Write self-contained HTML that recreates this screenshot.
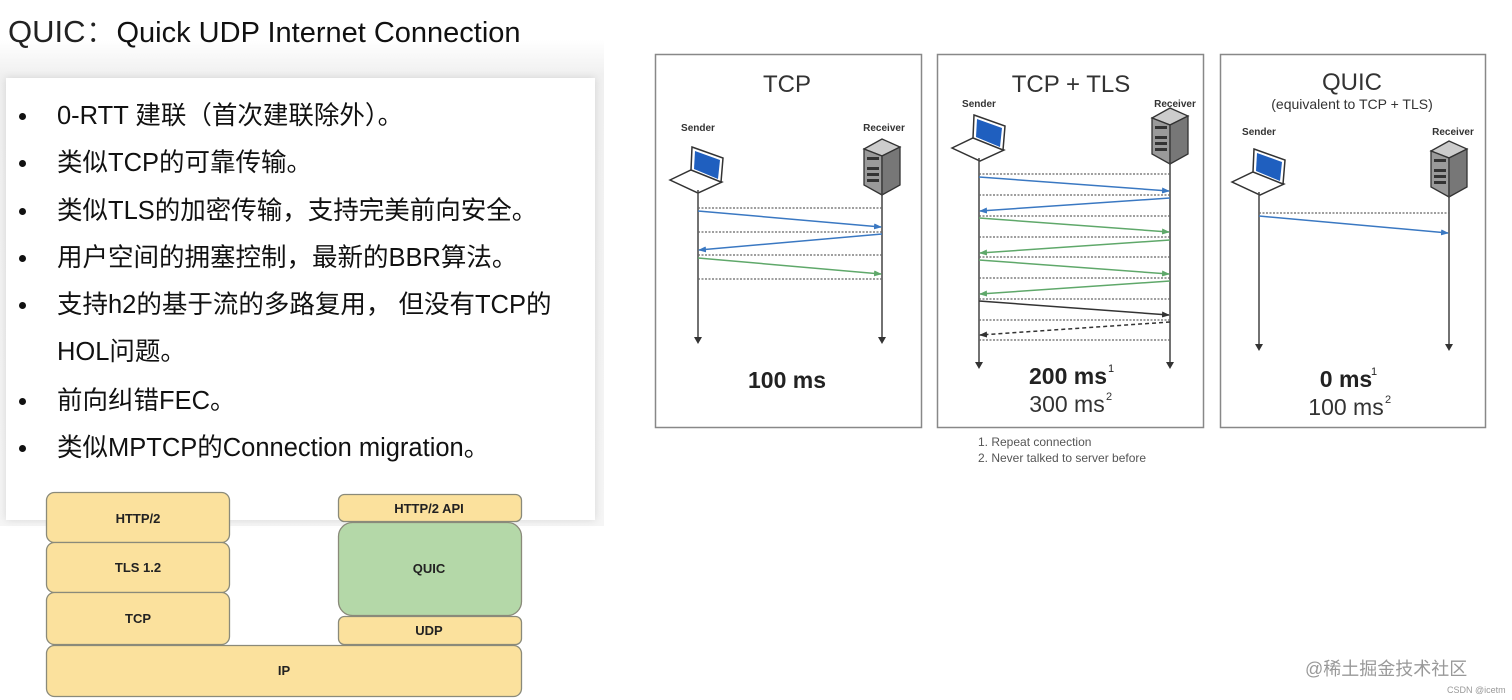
<!DOCTYPE html>
<html><head><meta charset="utf-8"><style>
html,body{margin:0;padding:0;background:#fff;}
body{width:1512px;height:700px;position:relative;overflow:hidden;font-family:"Liberation Sans","Noto Sans CJK SC",sans-serif;}
.shade{position:absolute;left:0;top:40px;width:604px;height:486px;background:linear-gradient(#fff,#f0f0f0 35px,#f5f5f5);}
.box{position:absolute;left:6px;top:78px;width:589px;height:442px;background:#fff;box-shadow:0 0 8px rgba(0,0,0,0.12);}
.t{position:absolute;white-space:nowrap;color:#111;}
.li{position:absolute;left:57px;font-size:25.5px;color:#111;white-space:nowrap;line-height:28px;}
.dot{position:absolute;left:19px;width:7px;height:7px;border-radius:50%;background:#111;}
</style></head><body>
<div class="shade"></div>
<div class="box"></div>
<div class="t" style="left:8px;top:6px;font-size:31px;font-weight:300;color:#222;">QUIC：<span style="font-size:29px;color:#111;">Quick UDP Internet Connection</span></div>

<div class="dot" style="top:113px"></div><div class="li" style="top:102px">0-RTT 建联（首次建联除外）。</div>
<div class="dot" style="top:160px"></div><div class="li" style="top:149px">类似TCP的可靠传输。</div>
<div class="dot" style="top:208px"></div><div class="li" style="top:197px">类似TLS的加密传输，支持完美前向安全。</div>
<div class="dot" style="top:255px"></div><div class="li" style="top:244px">用户空间的拥塞控制，最新的BBR算法。</div>
<div class="dot" style="top:302px"></div><div class="li" style="top:291px">支持h2的基于流的多路复用， 但没有TCP的</div>
<div class="li" style="top:338px">HOL问题。</div>
<div class="dot" style="top:398px"></div><div class="li" style="top:387px">前向纠错FEC。</div>
<div class="dot" style="top:445px"></div><div class="li" style="top:434px">类似MPTCP的Connection migration。</div>

<svg width="1512" height="700" style="position:absolute;left:0;top:0" xmlns="http://www.w3.org/2000/svg" font-family="Liberation Sans, sans-serif">
<defs>
<marker id="ab" markerWidth="8" markerHeight="8" refX="7" refY="4" orient="auto" markerUnits="userSpaceOnUse"><path d="M0,1 L8,4 L0,7z" fill="#3a78c2"/></marker>
<marker id="ag" markerWidth="8" markerHeight="8" refX="7" refY="4" orient="auto" markerUnits="userSpaceOnUse"><path d="M0,1 L8,4 L0,7z" fill="#5fa86a"/></marker>
<marker id="ak" markerWidth="8" markerHeight="8" refX="7" refY="4" orient="auto" markerUnits="userSpaceOnUse"><path d="M0,1 L8,4 L0,7z" fill="#333"/></marker>
<g id="lap">
<polygon points="-27,-9 -4,-20 25,-7 1,4" fill="#fff" stroke="#333" stroke-width="1.5"/>
<polygon points="-5,-42 26,-31 24,-7 -6,-19" fill="#fff" stroke="#333" stroke-width="1.5"/>
<polygon points="-2,-38 23,-29 21,-10 -3,-20" fill="#1f5fbf"/>
</g>
<g id="srv">
<polygon points="-18,-44 0,-54 18,-46 0,-37" fill="#ccc" stroke="#333" stroke-width="1.3"/>
<polygon points="-18,-44 0,-37 0,2 -18,-8" fill="#9a9a9a" stroke="#333" stroke-width="1.3"/>
<polygon points="0,-37 18,-46 18,-8 0,2" fill="#777" stroke="#333" stroke-width="1.3"/>
<rect x="-15" y="-36" width="12" height="3" fill="#333"/>
<rect x="-15" y="-26" width="12" height="3" fill="#333"/>
<rect x="-15" y="-20" width="12" height="3" fill="#333"/>
<rect x="-15" y="-14" width="12" height="3" fill="#333"/>
</g>
</defs>

<!-- Panel TCP -->
<rect x="655.5" y="54.5" width="266" height="373" fill="#fff" stroke="#888" stroke-width="1.5"/>
<text x="787" y="92" font-size="24" text-anchor="middle" fill="#333">TCP</text>
<text x="698" y="131" font-size="10" text-anchor="middle" fill="#333" font-weight="bold">Sender</text>
<text x="884" y="131" font-size="10" text-anchor="middle" fill="#333" font-weight="bold">Receiver</text>
<use href="#lap" x="697" y="189"/>
<use href="#srv" x="882" y="193"/>
<g stroke="#444" stroke-width="1.5"><line x1="698" y1="190" x2="698" y2="340"/><line x1="882" y1="194" x2="882" y2="340"/></g>
<path d="M694,337 L698,344 L702,337z M878,337 L882,344 L886,337z" fill="#333"/>
<g stroke="#666" stroke-width="1.2" stroke-dasharray="2,1.5"><line x1="698" y1="208" x2="882" y2="208"/><line x1="698" y1="232" x2="882" y2="232"/><line x1="698" y1="255" x2="882" y2="255"/><line x1="698" y1="279" x2="882" y2="279"/></g>
<line x1="698" y1="211" x2="881" y2="227" stroke="#3a78c2" stroke-width="1.5" marker-end="url(#ab)"/>
<line x1="882" y1="234" x2="699" y2="250" stroke="#3a78c2" stroke-width="1.5" marker-end="url(#ab)"/>
<line x1="698" y1="258" x2="881" y2="274" stroke="#5fa86a" stroke-width="1.5" marker-end="url(#ag)"/>
<text x="787" y="388" font-size="23" font-weight="bold" text-anchor="middle" fill="#222">100 ms</text>

<!-- Panel TCP+TLS -->
<rect x="937.5" y="54.5" width="266" height="373" fill="#fff" stroke="#888" stroke-width="1.5"/>
<text x="1071" y="92" font-size="24" text-anchor="middle" fill="#333">TCP + TLS</text>
<text x="979" y="107" font-size="10" text-anchor="middle" fill="#333" font-weight="bold">Sender</text>
<text x="1175" y="107" font-size="10" text-anchor="middle" fill="#333" font-weight="bold">Receiver</text>
<use href="#lap" x="979" y="157"/>
<use href="#srv" x="1170" y="162"/>
<g stroke="#444" stroke-width="1.5"><line x1="979" y1="158" x2="979" y2="365"/><line x1="1170" y1="163" x2="1170" y2="365"/></g>
<path d="M975,362 L979,369 L983,362z M1166,362 L1170,369 L1174,362z" fill="#333"/>
<g stroke="#666" stroke-width="1.2" stroke-dasharray="2,1.5">
<line x1="979" y1="174" x2="1170" y2="174"/><line x1="979" y1="195" x2="1170" y2="195"/><line x1="979" y1="216" x2="1170" y2="216"/><line x1="979" y1="237" x2="1170" y2="237"/><line x1="979" y1="257" x2="1170" y2="257"/><line x1="979" y1="278" x2="1170" y2="278"/><line x1="979" y1="299" x2="1170" y2="299"/><line x1="979" y1="320" x2="1170" y2="320"/><line x1="979" y1="340" x2="1170" y2="340"/></g>
<line x1="979" y1="177" x2="1169" y2="191" stroke="#3a78c2" stroke-width="1.5" marker-end="url(#ab)"/>
<line x1="1170" y1="198" x2="980" y2="211" stroke="#3a78c2" stroke-width="1.5" marker-end="url(#ab)"/>
<line x1="979" y1="218" x2="1169" y2="232" stroke="#5fa86a" stroke-width="1.5" marker-end="url(#ag)"/>
<line x1="1170" y1="240" x2="980" y2="253" stroke="#5fa86a" stroke-width="1.5" marker-end="url(#ag)"/>
<line x1="979" y1="260" x2="1169" y2="274" stroke="#5fa86a" stroke-width="1.5" marker-end="url(#ag)"/>
<line x1="1170" y1="281" x2="980" y2="294" stroke="#5fa86a" stroke-width="1.5" marker-end="url(#ag)"/>
<line x1="979" y1="301" x2="1169" y2="315" stroke="#333" stroke-width="1.5" marker-end="url(#ak)"/>
<line x1="1170" y1="322" x2="980" y2="335" stroke="#333" stroke-width="1.5" stroke-dasharray="4,3" marker-end="url(#ak)"/>
<text x="1068" y="384" font-size="23" font-weight="bold" text-anchor="middle" fill="#222">200 ms</text>
<text x="1108" y="372" font-size="11" fill="#222">1</text>
<text x="1067" y="412" font-size="23" text-anchor="middle" fill="#333">300 ms</text>
<text x="1106" y="400" font-size="11" fill="#333">2</text>
<text x="978" y="446" font-size="12" fill="#555">1. Repeat connection</text>
<text x="978" y="462" font-size="12" fill="#555">2. Never talked to server before</text>

<!-- Panel QUIC -->
<rect x="1220.5" y="54.5" width="265" height="373" fill="#fff" stroke="#888" stroke-width="1.5"/>
<text x="1352" y="90" font-size="24" text-anchor="middle" fill="#333">QUIC</text>
<text x="1352" y="109" font-size="14" text-anchor="middle" fill="#333">(equivalent to TCP + TLS)</text>
<text x="1259" y="135" font-size="10" text-anchor="middle" fill="#333" font-weight="bold">Sender</text>
<text x="1453" y="135" font-size="10" text-anchor="middle" fill="#333" font-weight="bold">Receiver</text>
<use href="#lap" x="1259" y="191"/>
<use href="#srv" x="1449" y="195"/>
<g stroke="#444" stroke-width="1.5"><line x1="1259" y1="192" x2="1259" y2="347"/><line x1="1449" y1="196" x2="1449" y2="347"/></g>
<path d="M1255,344 L1259,351 L1263,344z M1445,344 L1449,351 L1453,344z" fill="#333"/>
<line x1="1259" y1="213" x2="1449" y2="213" stroke="#666" stroke-width="1.2" stroke-dasharray="2,1.5"/>
<line x1="1259" y1="216" x2="1448" y2="233" stroke="#3a78c2" stroke-width="1.5" marker-end="url(#ab)"/>
<text x="1346" y="387" font-size="23" font-weight="bold" text-anchor="middle" fill="#222">0 ms</text>
<text x="1371" y="375" font-size="11" fill="#222">1</text>
<text x="1346" y="415" font-size="23" text-anchor="middle" fill="#333">100 ms</text>
<text x="1385" y="403" font-size="11" fill="#333">2</text>

<!-- Protocol stacks -->
<g stroke="#8a8a7a" stroke-width="1.3" fill="#fbe19d">
<rect x="46.5" y="645.5" width="475" height="51" rx="8"/>
<rect x="46.5" y="492.5" width="183" height="50" rx="8"/>
<rect x="46.5" y="542.5" width="183" height="50" rx="8"/>
<rect x="46.5" y="592.5" width="183" height="52" rx="8"/>
<rect x="338.5" y="494.5" width="183" height="27" rx="6"/>
<rect x="338.5" y="522.5" width="183" height="93" rx="14" fill="#b4d8a8"/>
<rect x="338.5" y="616.5" width="183" height="28" rx="6"/>
</g>
<g font-size="13" font-weight="bold" text-anchor="middle" fill="#222">
<text x="138" y="523">HTTP/2</text>
<text x="138" y="572">TLS 1.2</text>
<text x="138" y="623">TCP</text>
<text x="429" y="513">HTTP/2 API</text>
<text x="429" y="573">QUIC</text>
<text x="429" y="635">UDP</text>
<text x="284" y="675">IP</text>
</g>

<text x="1305" y="675" font-size="18" fill="#999" font-family="Liberation Sans, Noto Sans CJK SC, sans-serif">@稀土掘金技术社区</text>
<text x="1447" y="693" font-size="9" fill="#999">CSDN @icetm</text>
</svg>
</body></html>
